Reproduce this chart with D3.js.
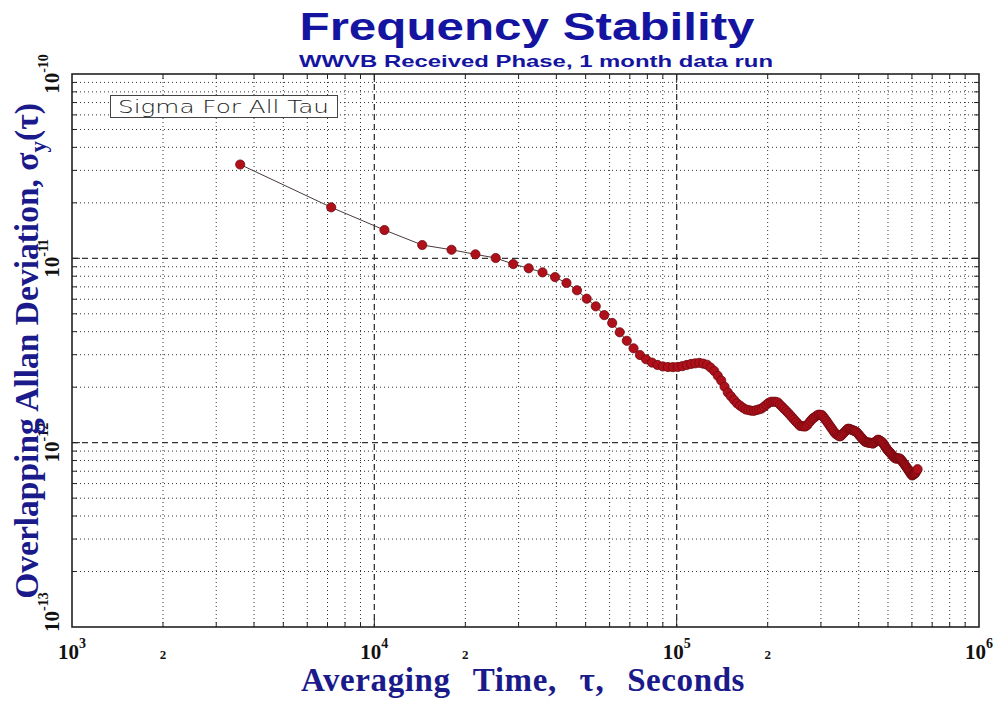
<!DOCTYPE html>
<html><head><meta charset="utf-8">
<script src="https://cdn.jsdelivr.net/npm/d3@7"></script>
<style>body{margin:0;background:#fff}svg{display:block}</style>
</head><body><svg id="c" width="1001" height="702"></svg>
<script>
// ---- data ----
const tauHours = [1,2,3,4,5,6,7,8,9,10,11,12,13,14,15,16,17,18,19,20,21,22,23,24,25,26,27,28,29,30,31,32,33,34,35,36,37,38,39,40,41,42,43,44,45,46,47,48,49,50,51,52,53,54,55,56,57,58,59,60,61,62,63,64,65,66,67,68,69,70,71,72,73,74,75,76,77,78,79,80,81,82,83,84,85,86,87,88,89,90,91,92,93,94,95,96,97,98,99,100,101,102,103,104,105,106,107,108,109,110,111,112,113,114,115,116,117,118,119,120,121,122,123,124,125,126,127,128,129,130,131,132,133,134,135,136,137,138,139,140,141,142,143,144,145,146,147,148,149,150,151,152,153,154,155,156,157,158,159,160,161,162,163,164,165,166,167,168,169,170,171,172,173,174];
// overlapping Allan deviation, in units of 1e-12
const sigmaE12 = [32.28,18.91,14.24,11.81,11.13,10.51,10.04,9.31,8.83,8.39,7.91,7.35,6.71,6.04,5.49,4.92,4.46,3.97,3.57,3.249,
2.988,2.835,2.720,2.640,2.591,2.572,2.569,2.575,2.601,2.640,2.673,2.693,2.710,2.683,2.647,2.552,2.446,2.304,2.173,2.013,
1.872,1.784,1.705,1.634,1.588,1.547,1.514,1.503,1.491,1.488,1.503,1.516,1.531,1.566,1.606,1.644,1.667,1.667,1.667,1.652,
1.608,1.566,1.525,1.486,1.447,1.408,1.370,1.333,1.298,1.265,1.234,1.229,1.226,1.224,1.243,1.277,1.311,1.345,1.365,1.387,
1.408,1.419,1.415,1.412,1.377,1.343,1.310,1.274,1.241,1.208,1.178,1.147,1.121,1.108,1.094,1.082,1.087,1.106,1.127,1.146,
1.166,1.187,1.191,1.184,1.176,1.169,1.162,1.154,1.147,1.129,1.109,1.091,1.072,1.056,1.038,1.021,1.010,1.006,1.002,1.000,
0.999,0.995,0.993,0.989,1.000,1.010,1.020,1.032,1.038,1.030,1.023,1.016,1.005,0.989,0.971,0.951,0.936,0.919,0.907,0.894,
0.882,0.872,0.861,0.848,0.838,0.828,0.822,0.821,0.821,0.821,0.820,0.820,0.812,0.800,0.790,0.779,0.768,0.757,0.746,0.735,
0.724,0.714,0.701,0.693,0.681,0.671,0.664,0.669,0.673,0.678,0.684,0.696,0.707,0.718];
const xDecadeExps = [3,4,5,6];
const yDecadeExps = [-13,-12,-11,-10];
const minorMults = [2,3,4,5,6,7,8,9];
const xMinorLabelText = "2";
const titleText = "Frequency Stability";
const subtitleText = "WWVB Received Phase, 1 month data run";
const legendText = "Sigma For All Tau";

// ---- chart ----
const svg = d3.select("#c");
const L = 72, R = 979, T = 74, B = 627;
const x = d3.scaleLog().domain([1e3, 1e6]).range([L, R]);
const y = d3.scaleLog().domain([1e-13, 1e-10]).range([B, T]);

const data = tauHours.map((h, i) => ({tau: h * 3600, sigma: sigmaE12[i] * 1e-12}));

const xMajor = xDecadeExps.map(e => Math.pow(10, e));
const yMajor = yDecadeExps.map(e => Math.pow(10, e));
const xMinor = [], yMinor = [];
xDecadeExps.slice(0, -1).forEach(e => minorMults.forEach(m => xMinor.push(m * Math.pow(10, e))));
yDecadeExps.slice(0, -1).forEach(e => minorMults.forEach(m => yMinor.push(m * Math.pow(10, e))));

svg.append("rect").attr("width", 1001).attr("height", 702).attr("fill", "#fff");

const grid = svg.append("g");
// minor grid (dotted)
grid.selectAll(".vx").data(xMinor).join("line")
  .attr("x1", d => x(d)).attr("x2", d => x(d)).attr("y1", T).attr("y2", B)
  .attr("stroke", "#333").attr("stroke-width", 1).attr("stroke-dasharray", "1,3");
grid.selectAll(".hy").data(yMinor).join("line")
  .attr("y1", d => y(d)).attr("y2", d => y(d)).attr("x1", L).attr("x2", R)
  .attr("stroke", "#333").attr("stroke-width", 1).attr("stroke-dasharray", "1,3");
// major grid (dashed)
grid.selectAll(".vX").data(xMajor.slice(1, -1)).join("line")
  .attr("x1", d => x(d)).attr("x2", d => x(d)).attr("y1", T).attr("y2", B)
  .attr("stroke", "#333").attr("stroke-width", 1.3).attr("stroke-dasharray", "6,4");
grid.selectAll(".hY").data(yMajor.slice(1, -1)).join("line")
  .attr("y1", d => y(d)).attr("y2", d => y(d)).attr("x1", L).attr("x2", R)
  .attr("stroke", "#333").attr("stroke-width", 1.3).attr("stroke-dasharray", "6,4");

// inward ticks on frame
const tk = svg.append("g").attr("stroke", "#222").attr("stroke-width", 1);
const allX = xMinor.concat(xMajor.slice(1, -1));
const allY = yMinor.concat(yMajor.slice(1, -1));
allX.forEach(v => {
  const len = xMajor.includes(v) ? 8 : 5;
  tk.append("line").attr("x1", x(v)).attr("x2", x(v)).attr("y1", T).attr("y2", T + len);
  tk.append("line").attr("x1", x(v)).attr("x2", x(v)).attr("y1", B).attr("y2", B - len);
});
allY.forEach(v => {
  const len = yMajor.includes(v) ? 8 : 5;
  tk.append("line").attr("y1", y(v)).attr("y2", y(v)).attr("x1", L).attr("x2", L + len);
  tk.append("line").attr("y1", y(v)).attr("y2", y(v)).attr("x1", R).attr("x2", R - len);
});

// frame
svg.append("rect").attr("x", L).attr("y", T).attr("width", R - L).attr("height", B - T)
  .attr("fill", "none").attr("stroke", "#222").attr("stroke-width", 1.6);

// data line + markers
svg.append("path").datum(data)
  .attr("d", d3.line().x(d => x(d.tau)).y(d => y(d.sigma)))
  .attr("fill", "none").attr("stroke", "#4a3a3a").attr("stroke-width", 1);
svg.append("g").selectAll("circle").data(data).join("circle")
  .attr("cx", d => x(d.tau)).attr("cy", d => y(d.sigma)).attr("r", 4.6)
  .attr("fill", "#b0101a").attr("stroke", "#700a10").attr("stroke-width", 0.8);

// legend
svg.append("rect").attr("x", 110.5).attr("y", 95.5).attr("width", 227).attr("height", 22)
  .attr("fill", "#fff").attr("stroke", "#444").attr("stroke-width", 1);
svg.append("text").attr("x", 118).attr("y", 113).text(legendText)
  .attr("font-family", "DejaVu Sans").attr("font-weight", 200).attr("font-size", 17)
  .attr("fill", "#222").attr("textLength", 211).attr("lengthAdjust", "spacingAndGlyphs");

// titles
svg.append("text").attr("x", 527).attr("y", 40).attr("text-anchor", "middle").text(titleText)
  .attr("font-family", "Liberation Sans, Arial, sans-serif").attr("font-weight", "bold")
  .attr("font-size", 38).attr("fill", "#1414a0")
  .attr("textLength", 455).attr("lengthAdjust", "spacingAndGlyphs");
svg.append("text").attr("x", 536).attr("y", 67).attr("text-anchor", "middle").text(subtitleText)
  .attr("font-family", "Liberation Sans, Arial, sans-serif").attr("font-weight", "bold")
  .attr("font-size", 17).attr("fill", "#1414a0")
  .attr("textLength", 474).attr("lengthAdjust", "spacingAndGlyphs");

// x tick labels
const serif = "Liberation Serif, Times New Roman, serif";
xDecadeExps.forEach(e => {
  const t = svg.append("text").attr("x", x(Math.pow(10, e))).attr("y", 659)
    .attr("text-anchor", "middle").attr("font-family", serif).attr("font-weight", "bold")
    .attr("fill", "#111");
  t.append("tspan").attr("font-size", 21).text("10");
  t.append("tspan").attr("font-size", 14).attr("dy", -11).text(String(e));
});
xDecadeExps.slice(0, -1).forEach(e => {
  svg.append("text").attr("x", x(2 * Math.pow(10, e))).attr("y", 659)
    .attr("text-anchor", "middle").attr("font-family", serif).attr("font-weight", "bold")
    .attr("font-size", 13).attr("fill", "#111").text(xMinorLabelText);
});

// y tick labels (rotated)
yDecadeExps.forEach((e, i) => {
  const yy = y(Math.pow(10, e));
  const last = i === 0;
  const g = svg.append("g").attr("transform", `translate(59,${last ? yy + 5 : yy}) rotate(-90)`);
  const t = g.append("text").attr("text-anchor", last ? "start" : "middle")
    .attr("font-family", serif).attr("font-weight", "bold").attr("fill", "#111");
  t.append("tspan").attr("font-size", 21).text("10");
  t.append("tspan").attr("font-size", 14).attr("dy", -11).text(String(e));
});

// axis titles
svg.append("text").attr("x", 523).attr("y", 691).attr("text-anchor", "middle")
  .attr("font-family", serif).attr("font-weight", "bold").attr("font-size", 33)
  .attr("fill", "#1a1a8a").attr("word-spacing", 14).attr("letter-spacing", 0.6)
  .text("Averaging Time, \u03C4, Seconds");

const yt = svg.append("g").attr("transform", "translate(38,351) rotate(-90)")
  .append("text").attr("text-anchor", "middle")
  .attr("font-family", serif).attr("font-weight", "bold").attr("font-size", 33.5).attr("fill", "#1a1a8a");
yt.append("tspan").text("Overlapping  Allan  Deviation,  \u03C3");
yt.append("tspan").attr("font-size", 23).attr("dy", 8).text("y");
yt.append("tspan").attr("dy", -8).text("(\u03C4)");
</script>
</body></html>
